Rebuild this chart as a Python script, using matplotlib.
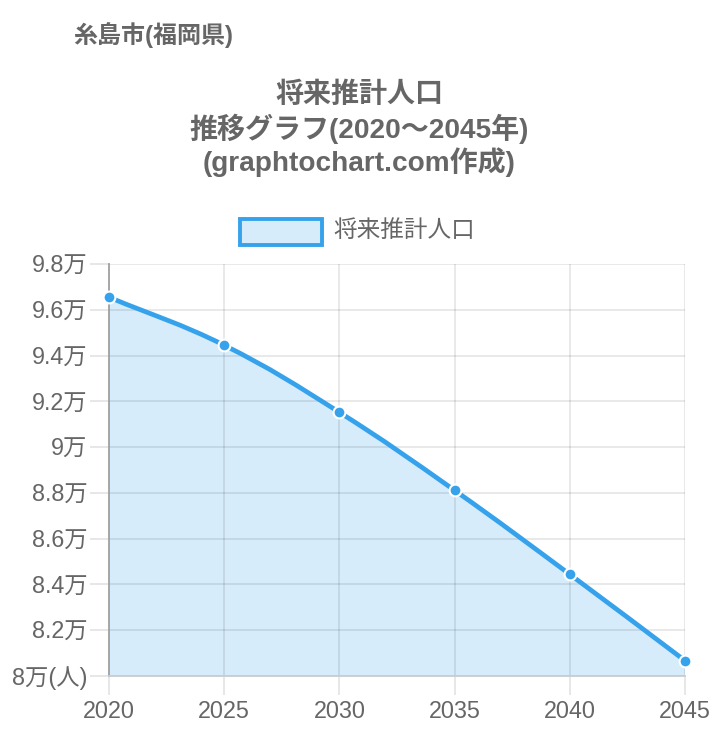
#!/usr/bin/env python3
import numpy as np
import matplotlib
matplotlib.use('Agg')
import matplotlib.pyplot as plt
from matplotlib.path import Path
from matplotlib.patches import PathPatch, Rectangle

# ─── DATOS ─────────────────────────────────────────────
years = [2020, 2025, 2030, 2035, 2040, 2045]
population = [96550, 94450, 91520, 88110, 84440, 80670]
ytick_values = [80000, 82000, 84000, 86000, 88000, 90000, 92000, 94000, 96000, 98000]
ytick_labels = ['8万(人)', '8.2万', '8.4万', '8.6万', '8.8万', '9万',
                '9.2万', '9.4万', '9.6万', '9.8万']
city_label = '糸島市(福岡県)'
title_lines = ['将来推計人口', '推移グラフ(2020～2045年)', '(graphtochart.com作成)']
legend_label = '将来推計人口'

FONTS = ['Liberation Sans', 'Noto Sans CJK JP', 'DejaVu Sans']
plt.rcParams['font.family'] = FONTS

LINE = '#36a2eb'
FILL = '#d7ecfb'
TEXT = '#666666'

W, H = 718, 736
fig = plt.figure(figsize=(W / 100, H / 100), dpi=100)
ax = fig.add_axes([109 / W, 1 - 676 / H, 576 / W, 412 / H])

ax.set_xlim(2020, 2045)
ax.set_ylim(80000, 98000)
ax.set_xticks(years)
ax.set_xticklabels([str(y) for y in years])
ax.set_yticks(ytick_values)
ax.set_yticklabels(ytick_labels)

ax.grid(True, color='black', alpha=0.1, linewidth=1.2)
for s in ['top', 'right']:
    ax.spines[s].set_visible(False)
ax.spines['left'].set_color('#a0a0a0')
ax.spines['bottom'].set_color('#c8ccd0')
ax.spines['left'].set_linewidth(1.3)
ax.spines['bottom'].set_linewidth(1.3)
ax.tick_params(axis='both', length=13.5, width=1.2, color='#e3e3e3',
               labelcolor=TEXT, labelsize=16.8)
ax.tick_params(axis='y', pad=2)
ax.tick_params(axis='x', pad=4)
for gl in ax.get_xgridlines() + ax.get_ygridlines():
    gl.set_zorder(2)

# ─── CURVA SUAVE (bezier estilo Chart.js, tension 0.4) ─────────
tension = 0.4
pts = ax.transData.transform(np.column_stack([years, population]))
n = len(pts)
cps = []
for i in range(n):
    prev = pts[i - 1] if i > 0 else pts[i]
    nxt = pts[i + 1] if i < n - 1 else pts[i]
    d01 = np.hypot(*(pts[i] - prev))
    d12 = np.hypot(*(nxt - pts[i]))
    tot = d01 + d12
    s01 = d01 / tot if tot else 0
    s12 = d12 / tot if tot else 0
    cps.append((pts[i] - tension * s01 * (nxt - prev),
                pts[i] + tension * s12 * (nxt - prev)))

verts = [pts[0]]
codes = [Path.MOVETO]
for i in range(n - 1):
    verts += [cps[i][1], cps[i + 1][0], pts[i + 1]]
    codes += [Path.CURVE4] * 3
inv = ax.transData.inverted()
verts_data = inv.transform(np.array(verts))

line_path = Path(verts_data, codes)
fill_verts = np.vstack([verts_data, [[years[-1], 80000], [years[0], 80000], verts_data[0]]])
fill_codes = codes + [Path.LINETO, Path.LINETO, Path.CLOSEPOLY]
ax.add_patch(PathPatch(Path(fill_verts, fill_codes), facecolor=FILL,
                       edgecolor='none', zorder=1))
ax.add_patch(PathPatch(line_path, facecolor='none', edgecolor=LINE,
                       linewidth=3.4, zorder=3, capstyle='round'))
ax.plot(years, population, 'o', color=LINE, markersize=8.5,
        markeredgecolor='white', markeredgewidth=1.5, zorder=4, clip_on=False)

# ─── TEXTOS ─────────────────────────────────────────────
fig.text(73 / W, 1 - 35 / H, city_label, ha='left', va='center',
         fontsize=17.3, fontweight='bold', color=TEXT)
for k, line in enumerate(title_lines):
    fig.text(359 / W, 1 - (95 + 33.5 * k) / H, line, ha='center', va='center',
             fontsize=20.2, fontweight='bold', color=TEXT)

# leyenda
fig.add_artist(Rectangle((240 / W, 1 - 245 / H), 82 / W, 26 / H,
                         transform=fig.transFigure, facecolor=FILL,
                         edgecolor=LINE, linewidth=2.8))
fig.text(333 / W, 1 - 231 / H, legend_label, ha='left', va='center',
         fontsize=17, color=TEXT)

plt.savefig('out.png', dpi=100)
plt.close()
